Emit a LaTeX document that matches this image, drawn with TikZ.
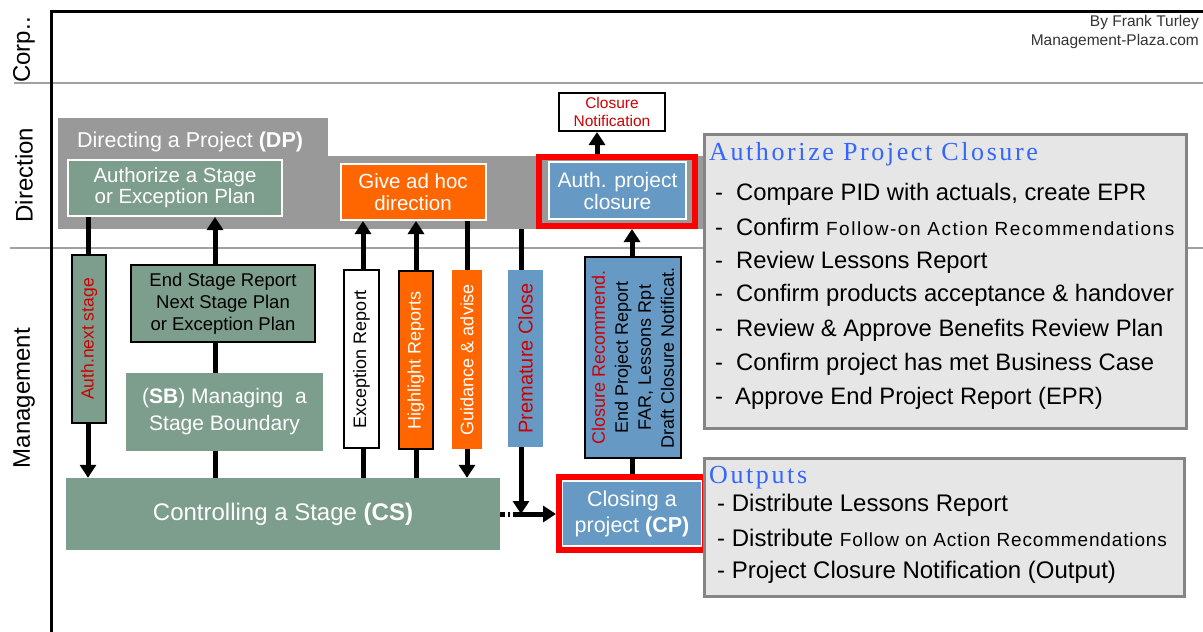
\documentclass[tikz,border=0pt]{standalone}
\usepackage{fontspec}
\setmainfont{Liberation Sans}
\newfontfamily\ttlfont[LetterSpace=10]{Liberation Serif}
\usetikzlibrary{arrows.meta}
\definecolor{sgreen}{HTML}{7D9E8D}
\definecolor{sorange}{HTML}{FF6600}
\definecolor{sblue}{HTML}{6699C4}
\definecolor{dpgray}{HTML}{999999}
\definecolor{pfill}{HTML}{E6E6E6}
\definecolor{pborder}{HTML}{858585}
\definecolor{tred}{HTML}{CC0000}
\definecolor{tblue}{HTML}{3366FF}
\definecolor{lanegray}{HTML}{A0A0A0}
\newcommand{\fsz}[2]{\fontsize{#1pt}{#2pt}\selectfont}
\tikzset{
  box/.style={rectangle, inner sep=0pt, align=center, text=white},
  wbord/.style={draw=white, line width=2pt},
  bbord/.style={draw=black, line width=2pt},
  redframe/.style={rectangle, draw=red, line width=6pt, inner sep=0pt},
  conn/.style={line width=5pt, black},
  arr/.style={conn, -{Triangle[width=16pt,length=13pt]}},
  lanetxt/.style={rotate=90, inner sep=0pt, font=\fsz{24}{26}},
  vtxt/.style={rotate=90, inner sep=0pt, align=center},
  panel/.style={rectangle, fill=pfill, draw=pborder, line width=3.5pt, inner sep=0pt},
  ptxt/.style={anchor=base west, inner sep=0pt, font=\fsz{23.8}{26}},
  qtxt/.style={anchor=base west, inner sep=0pt, font=\fsz{24}{26}},
  ptitle/.style={anchor=base west, inner sep=0pt, text=tblue, font=\ttlfont\fsz{26}{28}},
}
\begin{document}
\begin{tikzpicture}[x=1pt,y=-1pt]
\useasboundingbox (0,0) rectangle (1203,632);
% lanes
\draw[lanegray, line width=1.5pt] (14,83) -- (1203,83);
\draw[lanegray, line width=1.5pt] (10,248) -- (1203,248);
\draw[black, line width=3pt] (49.5,11) -- (1203,11);
\draw[black, line width=3pt] (51,11) -- (51,632);
\node[lanetxt] (lcorp) at (24,50) {Corp..};
\node[lanetxt] (ldir) at (24,175) {Direction};
\node[lanetxt] (lman) at (24,398) {Management};
\node[anchor=north east, align=right, inner sep=0pt, text=black!80, font=\fsz{15.5}{19}] (credit) at (1199,15) {By Frank Turley\\Management-Plaza.com};
% DP background
\node[box, fill=dpgray, minimum width=270, minimum height=40] (dptab) at (193,138) {};
\node[box, fill=dpgray, minimum width=645, minimum height=73] (dpbody) at (380.5,192.5) {};
\node[anchor=base west, inner sep=0pt, text=white, font=\fsz{21.5}{22}] (dptitle) at (77,147) {Directing a Project \textbf{(DP)}};
% direction boxes
\node[box, wbord, fill=sgreen, minimum width=214, minimum height=56, font=\fsz{20.5}{21}] (auth) at (175,188) {Authorize a Stage\\or Exception Plan};
\node[box, wbord, fill=sorange, minimum width=145, minimum height=56, font=\fsz{20.5}{22}] (adhoc) at (413,192) {Give ad hoc\\direction};
\node[redframe, minimum width=156, minimum height=69] (apcf) at (617,191.5) {};
\node[box, wbord, fill=sblue, minimum width=137, minimum height=57, font=\fsz{21}{22}] (apc) at (617.5,190.5) {Auth. project\\closure};
\node[box, bbord, fill=white, text=tred, minimum width=106, minimum height=38, font=\fsz{15.5}{18}] (notif) at (612,112) {Closure\\Notification};
% management boxes
\node[box, fill=sgreen, minimum width=434, minimum height=72, font=\fsz{24}{26}] (cs) at (283,514) {Controlling a Stage \textbf{(CS)}};
\node[redframe, minimum width=146, minimum height=73] (cpf) at (632,513.5) {};
\node[box, fill=sblue, minimum width=138, minimum height=63, font=\fsz{21.5}{26}] (cp) at (632,513.5) {Closing a\\project \textbf{(CP)}};
\coordinate (xa) at (88,0);
\coordinate (xb) at (215,0);
\coordinate (xc) at (363,0);
\coordinate (xd) at (416,0);
\coordinate (xe) at (467,0);
\coordinate (xf) at (632,0);
\coordinate (xg) at (597,0);
\coordinate (pcend) at (521,514);
% connectors
\draw[arr] (auth.south -| xa) -- (cs.north -| xa);
\draw[arr] (cs.north -| xb) -- (auth.south -| xb);
\draw[arr] (cs.north -| xc) -- (adhoc.south -| xc);
\draw[arr] (cs.north -| xd) -- (adhoc.south -| xd);
\draw[arr] (adhoc.south -| xe) -- (cs.north -| xe);
\draw[arr] (dpbody.south -| pcend) -- (pcend);
\draw[arr] (cpf.north -| xf) -- (apcf.south -| xf);
\draw[arr] (apcf.north -| xg) -- (notif.south -| xg);
\draw[arr, dash pattern=on 5pt off 3pt on 2pt off 3pt on 60pt off 0pt] (cs.east |- pcend) -- (cpf.west |- pcend);
% vertical boxes over the connectors
\node[box, bbord, fill=sgreen, minimum width=184, minimum height=77, text=black, font=\fsz{18.5}{22}] (esr) at (223,303.5) {End Stage Report\\Next Stage Plan\\or Exception Plan};
\node[box, fill=sgreen, minimum width=197, minimum height=78, font=\fsz{21}{27}] (sb) at (224.5,412) {(\textbf{SB}) Managing\ \ a\\Stage Boundary};
\node[box, bbord, fill=sgreen, minimum width=34, minimum height=168] (anl) at (89,339) {};
\node[vtxt, text=tred, font=\fsz{17.5}{20}] (anlt) at (anl.center) {Auth.next stage};
\node[box, bbord, fill=white, minimum width=35, minimum height=178] (exc) at (361.5,359) {};
\node[vtxt, text=black, font=\fsz{18}{20}] (exct) at (exc.center) {Exception Report};
\node[box, bbord, fill=sorange, minimum width=34, minimum height=178] (hl) at (416,360) {};
\node[vtxt, text=white, font=\fsz{18}{20}] (hlt) at (hl.center) {Highlight Reports};
\node[box, fill=sorange, minimum width=30, minimum height=179] (gd) at (467,359.5) {};
\node[vtxt, text=white, font=\fsz{18}{20}] (gdt) at (gd.center) {Guidance \& advise};
\node[box, fill=sblue, minimum width=35, minimum height=177] (pc) at (525.5,358.5) {};
\node[vtxt, text=tred, font=\fsz{20}{20}] (pct) at (pc.center) {Premature Close};
\node[box, bbord, fill=sblue, minimum width=96, minimum height=201] (cr) at (633,357.5) {};
\node[vtxt, text=black, font=\fsz{18}{23}] (crt) at (cr.center) {\textcolor{tred}{Closure Recommend.}\\End Project Report\\FAR, Lessons Rpt\\Draft Closure Notificat.};
% right panels
\node[panel, minimum width=482, minimum height=294] (p1) at (945.5,281.5) {};
\node[ptitle] (p1t) at (709,160) {Authorize Project Closure};
\node[ptxt] (p1a) at (715,200) {\makebox[21pt][l]{-}Compare PID with actuals, create EPR};
\node[ptxt] (p1b) at (715,235) {\makebox[21pt][l]{-}Confirm {\fsz{19}{20}\addfontfeature{LetterSpace=8}Follow-on Action Recommendations}};
\node[ptxt] (p1c) at (715,268) {\makebox[21pt][l]{-}Review Lessons Report};
\node[ptxt] (p1d) at (715,301) {\makebox[21pt][l]{-}Confirm products acceptance \& handover};
\node[ptxt] (p1e) at (715,336) {\makebox[21pt][l]{-}Review \& Approve Benefits Review Plan};
\node[ptxt] (p1f) at (715,370) {\makebox[21pt][l]{-}Confirm project has met Business Case};
\node[ptxt] (p1g) at (715,404) {\makebox[20pt][l]{-}Approve End Project Report (EPR)};
\node[panel, minimum width=480, minimum height=138] (p2) at (944.5,527.5) {};
\node[ptitle] (p2t) at (709,483) {Outputs};
\node[qtxt] (p2a) at (717,511) {- Distribute Lessons Report};
\node[qtxt] (p2b) at (717,546) {- Distribute {\fsz{19}{20}\addfontfeature{LetterSpace=4.5}Follow on Action Recommendations}};
\node[qtxt] (p2c) at (717,578) {- Project Closure Notification (Output)};
\end{tikzpicture}
\end{document}
